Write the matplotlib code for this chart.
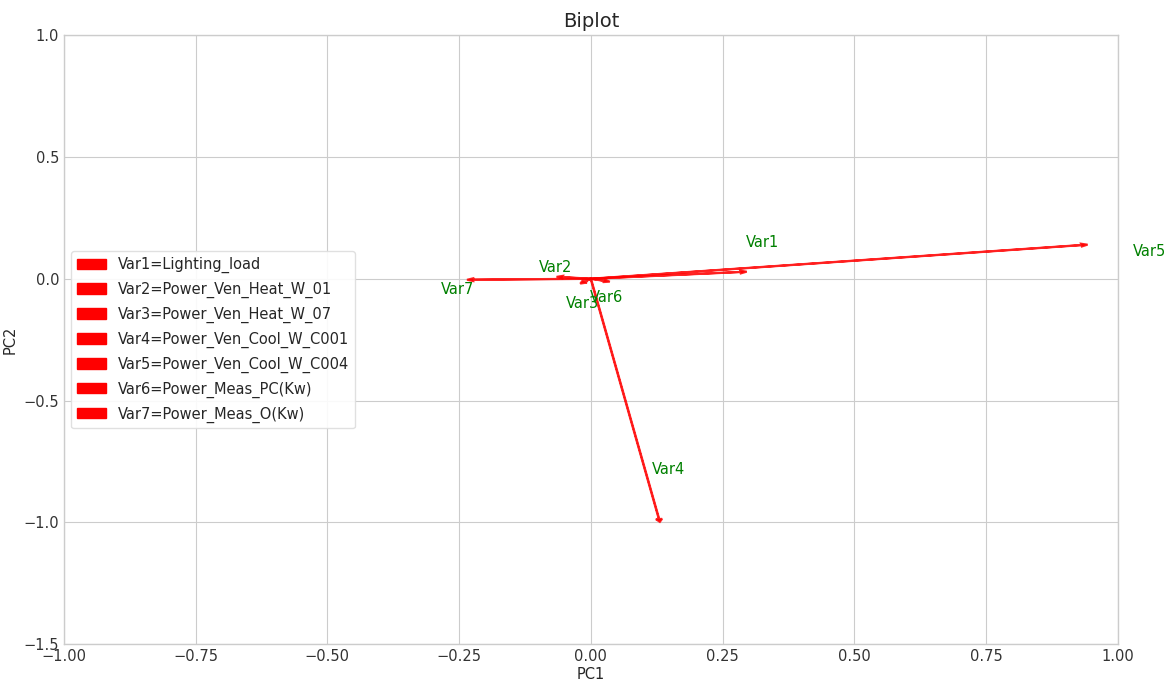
import numpy as np
import matplotlib.pyplot as plt
import matplotlib.patches as mpatches

# PCA loadings (PC1, PC2)
labels = ["Var1", "Var2", "Var3", "Var4", "Var5", "Var6", "Var7"]
names = ["Lighting_load", "Power_Ven_Heat_W_01", "Power_Ven_Heat_W_07",
         "Power_Ven_Cool_W_C001", "Power_Ven_Cool_W_C004",
         "Power_Meas_PC(Kw)", "Power_Meas_O(Kw)"]
pc1 = [0.296, -0.065, -0.02, 0.131, 0.943, 0.036, -0.235]
pc2 = [0.029, 0.008, -0.02, -0.998, 0.140, -0.012, -0.004]
# label positions
lab_x = [0.326, -0.066, -0.015, 0.148, 1.06, 0.03, -0.252]
lab_y = [0.148, 0.045, -0.10, -0.784, 0.11, -0.075, -0.045]

plt.style.use('seaborn-v0_8-whitegrid')
plt.rcParams['font.family'] = ['DejaVu Sans']
fig, ax = plt.subplots(figsize=(11.74, 6.89), dpi=100)
fig.subplots_adjust(left=0.0545, right=0.952, top=0.949, bottom=0.065)

for i in range(len(labels)):
    ax.arrow(0, 0, pc1[i], pc2[i], color='r', alpha=0.85, lw=1.5,
             head_width=0.012, head_length=0.012, length_includes_head=True)
    ax.text(lab_x[i], lab_y[i], labels[i], color='g', ha='center', va='center',
            fontsize=10.5, clip_on=False)

ax.set_xlim(-1, 1)
ax.set_ylim(-1.5, 1)
ax.set_xticks(np.arange(-1, 1.01, 0.25))
ax.set_yticks(np.arange(-1.5, 1.01, 0.5))
ax.tick_params(labelsize=10.5, colors='#333333')
ax.set_xlabel("PC1", fontsize=10.5, labelpad=2)
ax.set_ylabel("PC2", fontsize=10.5)
ax.set_title("Biplot", fontsize=14)
for s in ax.spines.values():
    s.set_visible(True)
    s.set_color('#cccccc')

handles = [mpatches.Patch(color='r', label=labels[i] + "=" + names[i])
           for i in range(len(labels))]
ax.legend(handles=handles, loc='center left', bbox_to_anchor=(0.0, 0.5),
          fontsize=10.5, frameon=True, framealpha=0.9, edgecolor='#dddddd',
          labelspacing=0.6)

plt.savefig("out.png")
